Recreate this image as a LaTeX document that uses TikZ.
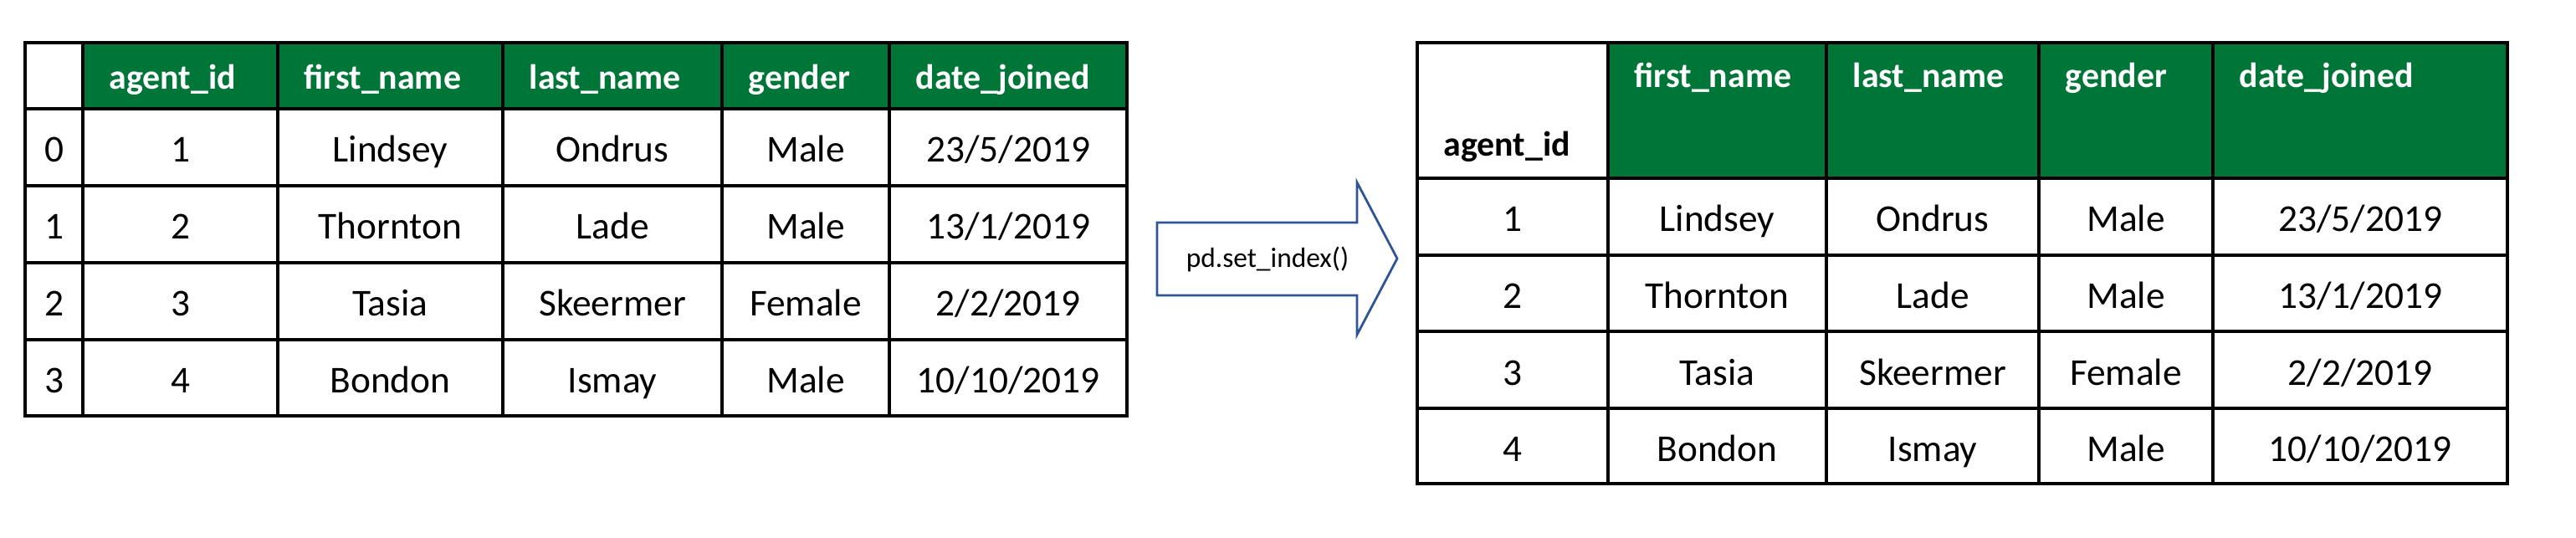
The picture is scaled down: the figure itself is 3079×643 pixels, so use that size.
\documentclass[tikz,border=0pt]{standalone}
\usepackage{fontspec}
\setmainfont{Carlito}
\definecolor{hdrgreen}{RGB}{0,117,56}
\definecolor{arrowblue}{RGB}{47,85,151}
\tikzset{
    grid line/.style={line width=1pt, line cap=rect, black},
    hdr/.style={anchor=base west, inner sep=0pt, font=\fontsize{11.9}{14}\selectfont\bfseries, text=white},
    cell/.style={anchor=base, inner sep=0pt, font=\fontsize{12.9}{15}\selectfont},
}

\begin{document}
\begin{tikzpicture}[x=0.01cm, y=-0.01cm]
    \useasboundingbox (0,0) rectangle (3079,643);
    % left table: default integer index
    \fill[hdrgreen] (99,51) rectangle (1347,130);
    \foreach \x in {30,99,332,601,863,1063,1347} \draw[grid line] (\x,51) -- (\x,497);
    \foreach \y in {51,130,222,314,406,497} \draw[grid line] (30,\y) -- (1347,\y);
    \foreach \x/\txt [count=\i] in {99/agent\_id, 332/first\_name, 601/last\_name, 863/gender, 1063/date\_joined}
        \node[hdr] (lhead\i) at (\x+31,107) {\txt};
    \foreach \y/\idx/\aid/\fn/\ln/\gen/\dj [count=\r] in {176/0/1/Lindsey/Ondrus/Male/{23/5/2019}, 268/1/2/Thornton/Lade/Male/{13/1/2019}, 360/2/3/Tasia/Skeermer/Female/{2/2/2019}, 451/3/4/Bondon/Ismay/Male/{10/10/2019}} {
        \node[cell] (lidx\r) at (64.5,\y+18) {\idx};
        \node[cell] (laid\r) at (215.5,\y+18) {\aid};
        \node[cell] (lfn\r) at (466.5,\y+18) {\fn};
        \node[cell] (lln\r) at (732,\y+18) {\ln};
        \node[cell] (lgen\r) at (963,\y+18) {\gen};
        \node[cell] (ldj\r) at (1205,\y+18) {\dj};
    }
    % block arrow
    \draw[arrowblue, line width=0.8pt, line join=miter] (1383,266) -- (1622,266) -- (1622,218) -- (1670,309)
        -- (1622,400) -- (1622,353) -- (1383,353) -- cycle;
    \node[font=\fontsize{9.5}{11}\selectfont, inner sep=0pt] (setidx) at (1515,310) {pd.set\_index()};
    % right table: agent_id as index
    \fill[hdrgreen] (1922,51) rectangle (2997,213);
    \foreach \x in {1694,1922,2183,2437,2645,2997} \draw[grid line] (\x,51) -- (\x,578);
    \foreach \y in {51,213,305,396,488,578} \draw[grid line] (1694,\y) -- (2997,\y);
    \node[hdr, text=black] (rindex) at (1725,187) {agent\_id};
    \foreach \x/\txt [count=\i] in {1922/first\_name, 2183/last\_name, 2437/gender, 2645/date\_joined}
        \node[hdr] (rhead\i) at (\x+31,105) {\txt};
    \foreach \y/\aid/\fn/\ln/\gen/\dj [count=\r] in {259/1/Lindsey/Ondrus/Male/{23/5/2019}, 350.5/2/Thornton/Lade/Male/{13/1/2019}, 442/3/Tasia/Skeermer/Female/{2/2/2019}, 533/4/Bondon/Ismay/Male/{10/10/2019}} {
        \node[cell] (raid\r) at (1808,\y+18) {\aid};
        \node[cell] (rfn\r) at (2052.5,\y+18) {\fn};
        \node[cell] (rln\r) at (2310,\y+18) {\ln};
        \node[cell] (rgen\r) at (2541,\y+18) {\gen};
        \node[cell] (rdj\r) at (2821,\y+18) {\dj};
    }
\end{tikzpicture}
\end{document}
